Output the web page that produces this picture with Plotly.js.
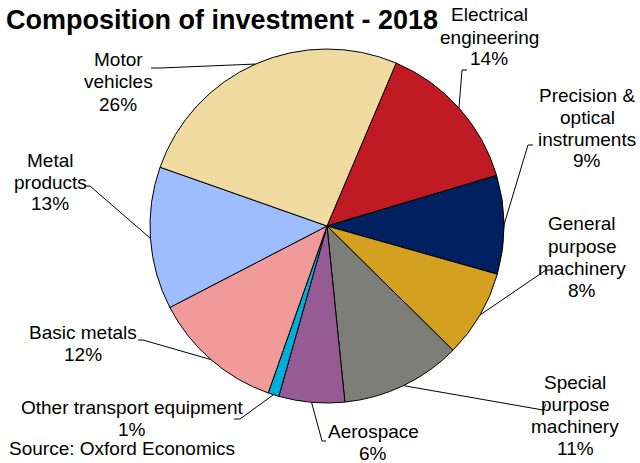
<!DOCTYPE html>
<html>
<head>
<meta charset="utf-8">
<script src="https://cdn.plot.ly/plotly-3.0.1.min.js"></script>
<style>html,body{margin:0;padding:0;background:#fff;}#chart{width:640px;height:463px;}</style>
</head>
<body>
<div id="chart"></div>
<script>
// Data (clockwise order, starting after 12 o'clock)
var categories = ["Electrical engineering", "Precision & optical instruments", "General purpose machinery",
  "Special purpose machinery", "Aerospace", "Other transport equipment", "Basic metals",
  "Metal products", "Motor vehicles"];
var shares = [14, 9, 8, 11, 6, 1, 12, 13, 26];
var labelLines = [
  ["Electrical", "engineering", "14%"],
  ["Precision &", "optical", "instruments", "9%"],
  ["General", "purpose", "machinery", "8%"],
  ["Special", "purpose", "machinery", "11%"],
  ["Aerospace", "6%"],
  ["Other transport equipment", "1%"],
  ["Basic metals", "12%"],
  ["Metal", "products", "13%"],
  ["Motor", "vehicles", "26%"]
];
var colors = ["#C01B24", "#00205F", "#D3A020", "#7E7E78", "#965A94", "#00AEDB", "#F09A9A", "#9DBDFF", "#EFDA9F"];

// Layout geometry (pixels)
var W = 640, H = 463;
var CX = 327, CY = 226, R = 177, ROT = 23;
// label block centre x and first line y, and leader end points near labels
var labelPos = [
  {x: 489, y: 15, lead: [[467, 70], [462, 70]]},
  {x: 587, y: 95, lead: [[533, 145], [528, 145]]},
  {x: 582, y: 224, lead: [[551, 270], [546, 270]]},
  {x: 575, y: 382, lead: [[546, 404], [543, 410]]},
  {x: 373, y: 431, lead: [[326, 441], [322, 441]]},
  {x: 132, y: 407, lead: [[234, 419], [240, 419]]},
  {x: 83, y: 332, lead: [[138, 340], [143, 340]]},
  {x: 50, y: 160, lead: [[84, 186], [90, 186]]},
  {x: 118, y: 60, lead: [[151, 68], [160, 68]]}
];
var LINE_H = 22;

function px(x) { return x / W; }
function py(y) { return 1 - y / H; }

var total = shares.reduce(function (a, b) { return a + b; }, 0);
var shapes = [];
var annotations = [];
var cum = 0;
for (var i = 0; i < shares.length; i++) {
  var mid = ROT + (cum + shares[i] / 2) / total * 360;
  cum += shares[i];
  var a = mid * Math.PI / 180;
  var ex = CX + R * Math.sin(a), ey = CY - R * Math.cos(a);
  var lp = labelPos[i];
  var path = "M " + px(lp.lead[0][0]) + " " + py(lp.lead[0][1]) +
    " L " + px(lp.lead[1][0]) + " " + py(lp.lead[1][1]) +
    " L " + px(ex) + " " + py(ey);
  shapes.push({type: "path", xref: "paper", yref: "paper", path: path,
    line: {color: "#000", width: 1}});
  for (var k = 0; k < labelLines[i].length; k++) {
    annotations.push({xref: "paper", yref: "paper", x: px(lp.x), y: py(lp.y + k * LINE_H),
      xanchor: "center", yanchor: "middle", showarrow: false, text: labelLines[i][k],
      font: {family: "Liberation Sans, Arial, sans-serif", size: 19, color: "#000"}});
  }
}
annotations.push({xref: "paper", yref: "paper", x: px(7), y: py(448), xanchor: "left", yanchor: "middle",
  showarrow: false, text: "Source: Oxford Economics",
  font: {family: "Liberation Sans, Arial, sans-serif", size: 19, color: "#000"}});

var trace = {
  type: "pie",
  labels: categories,
  values: shares,
  sort: false,
  direction: "clockwise",
  rotation: ROT,
  textinfo: "none",
  hoverinfo: "label+percent",
  marker: {colors: colors, line: {color: "#000", width: 1}},
  domain: {x: [px(CX - R), px(CX + R)], y: [py(CY + R), py(CY - R)]},
  showlegend: false
};

var layout = {
  width: W, height: H,
  margin: {l: 0, r: 0, t: 0, b: 0},
  paper_bgcolor: "#fff",
  showlegend: false,
  title: {text: "<b>Composition of investment - 2018</b>", x: px(6), xanchor: "left", xref: "paper",
    y: py(20), yanchor: "middle", yref: "paper",
    font: {family: "Liberation Sans, Arial, sans-serif", size: 27, color: "#000"}},
  shapes: shapes,
  annotations: annotations
};

Plotly.newPlot("chart", [trace], layout, {displayModeBar: false, staticPlot: true});
</script>
</body>
</html>
